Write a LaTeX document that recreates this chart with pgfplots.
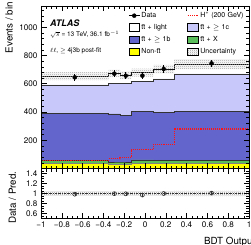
\documentclass[border=0pt]{standalone}
\usepackage{fontspec}
\setmainfont{TeX Gyre Heros}
\usepackage{pgfplots}
\pgfplotsset{compat=1.18}
\usetikzlibrary{patterns}
\definecolor{lav}{RGB}{200,200,250}
\definecolor{bblue}{RGB}{100,100,205}
\definecolor{ggreen}{RGB}{90,190,90}
\definecolor{yyel}{RGB}{255,255,0}
\definecolor{hred}{RGB}{255,20,20}
\pgfdeclarepatternformonly{chk}{\pgfqpoint{0pt}{0pt}}{\pgfqpoint{2pt}{2pt}}{\pgfqpoint{2pt}{2pt}}%
{\pgfpathrectangle{\pgfqpoint{0pt}{0pt}}{\pgfqpoint{1pt}{1pt}}\pgfpathrectangle{\pgfqpoint{1pt}{1pt}}{\pgfqpoint{1pt}{1pt}}\pgfusepath{fill}}
\begin{document}
\begin{tikzpicture}
\pgfplotsset{
 myax/.style={scale only axis, width=208pt, axis on top, xmin=-1, xmax=1,
  tick align=inside, major tick length=5.5pt, minor tick length=3pt,
  every tick/.style={black, line width=0.5pt},
  axis line style={line width=0.6pt},
  ticklabel style={font=\fontsize{8.1}{9}\selectfont},
  /pgf/number format/assume math mode=true,
  /pgf/number format/1000 sep={},
  xtick={-1,-0.8,-0.6,-0.4,-0.2,0,0.2,0.4,0.6,0.8,1},
  minor x tick num=3,
  xtick pos=both, ytick pos=both},
 stk/.style={const plot, line width=0.6pt, forget plot},
}
% ---------------- upper panel
\begin{axis}[myax, at={(41pt,75.5pt)}, anchor=south west, height=162.5pt,
  ymin=0, ymax=1150, ytick={200,400,600,800,1000},
  minor ytick={0,40,...,1140}, xticklabels={},
  legend columns=2, legend cell align=left,
  legend style={draw=none, fill=none, at={(0.42,0.962)}, anchor=north west,
    inner sep=0pt, row sep=4.5pt, font=\fontsize{7}{8}\selectfont,
    nodes={inner xsep=1.5pt, inner ysep=0pt, text height=5.2pt, text depth=1.4pt, text width=44pt, align=left}}]
\addlegendimage{legend image code/.code={\draw[black, line width=0.7pt] (0pt,0pt)--(10.7pt,0pt); \fill[black] (5.35pt,0pt) circle (2pt);}}
\addlegendentry{Data}
\addlegendimage{legend image code/.code={\draw[hred, line width=1.3pt, dash pattern=on 1.2pt off 1pt] (0pt,0pt)--(10.7pt,0pt);}}
\addlegendentry{H\textsuperscript{+} (200 GeV)}
\addlegendimage{legend image code/.code={\draw[black, line width=0.6pt, fill=white] (0pt,-3.6pt) rectangle (10.7pt,3.6pt);}}
\addlegendentry{t\={t} + light}
\addlegendimage{legend image code/.code={\draw[black, line width=0.6pt, fill=lav] (0pt,-3.6pt) rectangle (10.7pt,3.6pt);}}
\addlegendentry{t\={t} + $\geq$ 1c}
\addlegendimage{legend image code/.code={\draw[black, line width=0.6pt, fill=bblue] (0pt,-3.6pt) rectangle (10.7pt,3.6pt);}}
\addlegendentry{t\={t} + $\geq$ 1b}
\addlegendimage{legend image code/.code={\draw[black, line width=0.6pt, fill=ggreen] (0pt,-3.6pt) rectangle (10.7pt,3.6pt);}}
\addlegendentry{t\={t} + X}
\addlegendimage{legend image code/.code={\draw[black, line width=0.6pt, fill=yyel] (0pt,-3.6pt) rectangle (10.7pt,3.6pt);}}
\addlegendentry{Non-t\={t}}
\addlegendimage{legend image code/.code={\fill[pattern=chk, pattern color=gray!75] (0pt,-3.6pt) rectangle (10.7pt,3.6pt);}}
\addlegendentry{Uncertainty}
% stacks (cumulative tops)
\addplot[stk, fill=white, draw=black] coordinates {(-1,654) (-0.35,673) (-0.24,661) (-0.13,678) (0.08,704) (0.28,739) (1,739)} \closedcycle;
\addplot[stk, fill=lav, draw=black!80] coordinates {(-1,591) (-0.35,603) (-0.24,603) (-0.13,614) (0.08,634) (0.28,669) (1,669)} \closedcycle;
\addplot[stk, fill=bblue, draw=black!80] coordinates {(-1,391) (-0.35,386) (-0.24,374) (-0.13,405) (0.08,398) (0.28,405) (1,405)} \closedcycle;
\addplot[stk, fill=ggreen, draw=black!80, line width=0.4pt] coordinates {(-1,56) (-0.35,46) (-0.24,46) (-0.13,61) (0.08,56) (0.28,58) (1,58)} \closedcycle;
\addplot[stk, fill=yyel, draw=black!50, line width=0.4pt] coordinates {(-1,38) (-0.35,32) (-0.24,32) (-0.13,38) (0.08,38) (0.28,38) (1,38)} \closedcycle;
% H+ signal
\addplot[const plot, hred, line width=1.2pt, dash pattern=on 1.1pt off 1pt, forget plot] coordinates {(-1,56) (-0.35,68) (-0.24,78) (-0.13,134) (0.08,170) (0.28,280) (1,280)};
% uncertainty band
\addplot[draw=none, pattern=chk, pattern color=gray!75, forget plot] coordinates {
(-1,682)(-0.35,682)(-0.35,700)(-0.24,700)(-0.24,688)(-0.13,688)(-0.13,706)(0.08,706)(0.08,734)(0.28,734)(0.28,774)(1,774)
(1,704)(0.28,704)(0.28,674)(0.08,674)(0.08,650)(-0.13,650)(-0.13,634)(-0.24,634)(-0.24,646)(-0.35,646)(-0.35,626)(-1,626)};
% data
\addplot[only marks, mark=*, mark size=2pt, black, forget plot,
  error bars/.cd, y dir=both, y explicit, error bar style={line width=0.7pt}, error mark=none]
 coordinates {(-0.675,645) +- (0,25.4) (-0.295,671) +- (0,25.9) (-0.185,657) +- (0,25.6)
 (-0.025,657) +- (0,25.6) (0.18,704) +- (0,26.5) (0.64,744) +- (0,27.3)};
\end{axis}
% ---------------- ratio panel
\begin{axis}[myax, at={(41pt,25.5pt)}, anchor=south west, height=50pt,
  ymin=0.5, ymax=1.5, ytick={0.6,0.8,1,1.2,1.4}, yticklabels={0.6,0.8,1,1.2,1.4},
  minor ytick={0.5,0.55,...,1.5},
  xticklabels={−1,−0.8,−0.6,−0.4,−0.2,0,0.2,0.4,0.6,0.8,1}]
\addplot[draw=none, pattern=chk, pattern color=gray!75, forget plot] coordinates {
(-1,1.048)(-0.35,1.048)(-0.35,1.045)(-0.24,1.045)(-0.24,1.046)(-0.13,1.046)(-0.13,1.046)(0.08,1.046)(0.08,1.048)(0.28,1.048)(0.28,1.052)(1,1.052)
(1,0.948)(0.28,0.948)(0.28,0.952)(0.08,0.952)(0.08,0.954)(-0.13,0.954)(-0.13,0.954)(-0.24,0.954)(-0.24,0.955)(-0.35,0.955)(-0.35,0.952)(-1,0.952)};
\addplot[black!80, line width=0.5pt, dash pattern=on 2pt off 1pt on 0.5pt off 1pt, forget plot] coordinates {(-1,1) (1,1)};
\addplot[only marks, mark=o, mark size=2pt, black!80, mark options={line width=0.6pt}, forget plot,
  error bars/.cd, y dir=both, y explicit, error mark=none]
 coordinates {(-0.675,0.986) +- (0,0.039) (-0.295,0.997) +- (0,0.039) (-0.185,0.994) +- (0,0.039)
 (-0.025,0.969) +- (0,0.038) (0.18,1.0) +- (0,0.038) (0.64,1.007) +- (0,0.037)};
\end{axis}
% ---------------- texts
\node[anchor=base west, font=\bfseries\itshape\fontsize{9}{10}\selectfont, inner sep=0pt] at (50pt,217.8pt) {ATLAS};
\node[anchor=base west, font=\fontsize{6.5}{7}\selectfont, inner sep=0pt] at (50pt,207.4pt) {$\sqrt{s}$ = 13 TeV, 36.1 fb$^{-1}$};
\node[anchor=base west, font=\fontsize{6.5}{7}\selectfont, inner sep=0pt] at (50pt,191.7pt) {$\ell\ell$, $\geq$ 4j3b post-fit};
\node[rotate=90, anchor=east, font=\fontsize{9.8}{11}\selectfont, inner sep=0pt] at (9.2pt,242pt) {Events / bin};
\node[rotate=90, font=\fontsize{9.8}{11}\selectfont, inner sep=0pt] at (12.3pt,46.5pt) {Data / Pred.};
\node[anchor=base east, font=\fontsize{9.8}{11}\selectfont, inner sep=0pt] at (255.5pt,-0.3pt) {BDT Output};
\pgfresetboundingbox
\path[use as bounding box] (0pt,0pt) rectangle (251pt,244pt);
\end{tikzpicture}
\end{document}
